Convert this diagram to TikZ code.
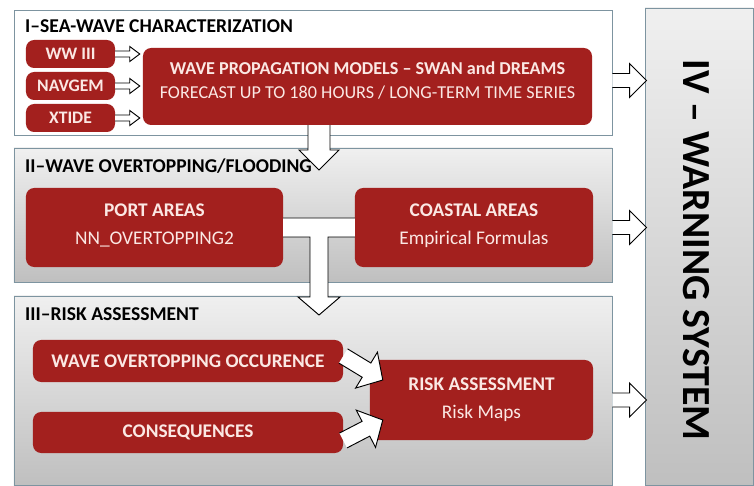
\documentclass[tikz,border=0pt]{standalone}
\usepackage{fontspec}
\setmainfont{Carlito}
\usetikzlibrary{calc}
\definecolor{boxred}{RGB}{163,32,30}
\definecolor{boxtext}{RGB}{251,232,228}
\definecolor{frame}{RGB}{125,148,160}
\begin{document}
\begin{tikzpicture}[x=0.03cm,y=-0.03cm,
    panel/.style={draw=frame,line width=0.8pt,top color=black!6,bottom color=black!25,minimum width=17.94cm},
    redbox/.style={fill=boxred,rounded corners=7pt,text=boxtext,align=center,inner sep=2pt,font=\bfseries\fontsize{16.5}{24}\selectfont},
    small/.style={redbox,minimum width=2.67cm,minimum height=0.84cm,font=\bfseries\fontsize{15}{17}\selectfont},
    head/.style={anchor=base west,inner sep=0pt,font=\bfseries\fontsize{16.7}{19}\selectfont},
    fat/.style args={#1/#2/#3}{draw=black,line width=0.8pt,fill=white,line join=miter,
        to path={($(\tikztotarget)!#3!(\tikztostart)$) coordinate (fh)
            ($(\tikztostart)!#1!90:(\tikztotarget)$) -- ($(fh)!#1!90:(\tikztotarget)$)
            -- ($(fh)!#2!90:(\tikztotarget)$) -- (\tikztotarget)
            -- ($(fh)!#2!-90:(\tikztotarget)$) -- ($(fh)!#1!-90:(\tikztotarget)$)
            -- ($(\tikztostart)!#1!-90:(\tikztotarget)$)}}]
    \useasboundingbox (0,0) rectangle (754,486);

    \node[panel,fill=white,top color=white,bottom color=white,minimum height=3.75cm] (p1) at (313,72.5) {};
    \node[panel,minimum height=4.02cm] (p2) at (313,215) {};
    \node[panel,minimum height=5.67cm] (p3) at (313,390.5) {};
    \node[panel,minimum width=3.24cm,minimum height=14.31cm] (p4) at (699,246.5) {};

    \node[head] (h1) at (25,33) {I–SEA-WAVE CHARACTERIZATION};
    \node[head] (h2) at (25,173) {II–WAVE OVERTOPPING/FLOODING};
    \node[head] (h3) at (25,321) {III–RISK ASSESSMENT};
    \node[rotate=-90,font=\bfseries\fontsize{34}{40}\selectfont] (warn) at (696,250) {IV – WARNING SYSTEM};

    \node[small] (ww) at (70.5,54) {WW III};
    \node[small] (navgem) at (70.5,86) {NAVGEM};
    \node[small] (xtide) at (70.5,118) {XTIDE};
    \node[redbox,minimum width=13.47cm,minimum height=2.31cm,text depth=11pt,font=\fontsize{15.5}{20.5}\selectfont] (model) at (367.5,86.5)
        {\textbf{WAVE PROPAGATION MODELS – SWAN and DREAMS}\\FORECAST UP TO 180 HOURS / LONG-TERM TIME SERIES};

    \node[redbox,minimum width=7.71cm,minimum height=2.37cm,text depth=6pt,font=\fontsize{16.5}{24}\selectfont] (port) at (154.5,227.5)
        {\textbf{PORT AREAS}\\NN\_OVERTOPPING2};
    \node[redbox,minimum width=7.14cm,minimum height=2.37cm,text depth=6pt,font=\fontsize{16.5}{24}\selectfont] (coast) at (474,227.5)
        {\textbf{COASTAL AREAS}\\Empirical Formulas};

    \node[redbox,minimum width=9.3cm,minimum height=1.26cm] (wave) at (188,361) {WAVE OVERTOPPING OCCURENCE};
    \node[redbox,minimum width=9.3cm,minimum height=1.23cm] (cons) at (188,432.5) {CONSEQUENCES};
    \node[redbox,minimum width=6.69cm,minimum height=2.4cm,font=\fontsize{16.5}{24}\selectfont] (risk) at (481.5,400)
        {\textbf{RISK ASSESSMENT}\\Risk Maps};

    \foreach \n in {ww,navgem,xtide}{
        \coordinate (\n-in) at ($(\n.east -| model.west)+(-3,0)$);
        \draw[fat=0.09cm/0.225cm/0.3cm] (\n.east) to (\n-in);
    }

    \coordinate (split) at ($(port.east)!0.5!(coast.west)$);
    \coordinate (down1) at (model.south -| split);
    \coordinate (tip1) at ($(split)+(0,-57.5)$);
    \draw[fat=0.33cm/0.6cm/0.6cm] (down1) to (tip1);

    \fill[white] ($(port.east)+(0,-9.5)$) -- ($(coast.west)+(0,-9.5)$) -- ($(coast.west)+(0,9.5)$)
        -- ($(split)+(9,9.5)$) -- ($(split)+(9,69.5)$) -- ($(split)+(21,69.5)$) -- ($(split)+(0,87.5)$)
        -- ($(split)+(-21,69.5)$) -- ($(split)+(-9,69.5)$) -- ($(split)+(-9,9.5)$) -- ($(port.east)+(0,9.5)$) -- cycle;
    \draw[line width=0.8pt,line join=miter] ($(port.east)+(0,-9.5)$) -- ($(coast.west)+(0,-9.5)$)
        ($(coast.west)+(0,9.5)$) -- ($(split)+(9,9.5)$) -- ($(split)+(9,69.5)$) -- ($(split)+(21,69.5)$)
        -- ($(split)+(0,87.5)$) -- ($(split)+(-21,69.5)$) -- ($(split)+(-9,69.5)$) -- ($(split)+(-9,9.5)$)
        -- ($(port.east)+(0,9.5)$);

    \coordinate (w-out) at ($(wave.east)+(0,-5)$);
    \coordinate (w-in) at ($(risk.west)+(13,-20)$);
    \coordinate (c-out) at ($(cons.east)+(0,8)$);
    \coordinate (c-in) at ($(risk.west)+(13,20)$);
    \draw[fat=0.25cm/0.63cm/0.57cm] (w-out) to (w-in);
    \draw[fat=0.25cm/0.63cm/0.57cm] (c-out) to (c-in);

    \coordinate (o1) at ($(p1.east |- model.east)+(0,-6)$);
    \coordinate (o2) at (p2.east |- port.east);
    \coordinate (o3) at (p3.east |- risk.east);
    \foreach \o in {o1,o2,o3}{
        \coordinate (\o-in) at ($(\o -| p4.west)+(2,0)$);
        \draw[fat=0.21cm/0.51cm/0.51cm] (\o) to (\o-in);
    }
\end{tikzpicture}
\end{document}
